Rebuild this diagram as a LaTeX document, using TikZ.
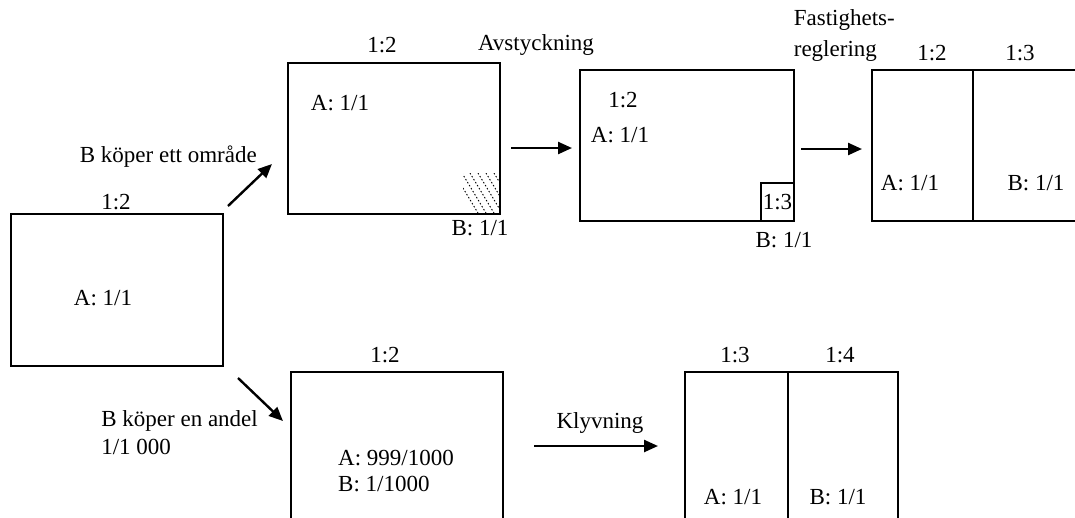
\documentclass[tikz,border=0pt]{standalone}
\usepackage{fontspec}
\setmainfont{Liberation Serif}
\usetikzlibrary{arrows.meta}
\begin{document}
\begin{tikzpicture}[x=1pt,y=-1pt,
  box/.style={draw,line width=1.6pt,inner sep=0pt},
  lbl/.style={inner sep=0pt,font=\fontsize{23}{27}\selectfont},
  arr/.style={line width=2.4pt,-{Triangle[length=14pt,width=12pt]}},
  hatch/.style={line width=0.9pt,dash pattern=on 1.5pt off 2pt}]
\useasboundingbox (0,0) rectangle (1075,517);
\clip (0,0) rectangle (1075,517);
% left box
\node[box,minimum width=212pt,minimum height=152pt] (b1) at (117,290) {};
\node[lbl] (b1t) at (116,202) {1:2};
\node[lbl] (b1a) at (103,298) {A: 1/1};
% top middle box
\node[box,minimum width=212pt,minimum height=151pt] (b2) at (394,138.5) {};
\node[lbl] (b2t) at (382,45) {1:2};
\node[lbl] (b2a) at (340,103) {A: 1/1};
\node[lbl] (b2b) at (480,228) {B: 1/1};
\begin{scope}
\clip (463,173) rectangle (499,213);
\foreach \i in {0,...,5}
  \draw[hatch] (454+8*\i,173) -- (478+8*\i,213);
\end{scope}
% Avstyckning box
\node[box,minimum width=214pt,minimum height=151pt] (b3) at (687,145.5) {};
\node[box,minimum width=33pt,minimum height=38pt] (b3s) at (777.5,202) {};
\node[lbl] at (b3s) {1:3};
\node[lbl] (b3t) at (623,100) {1:2};
\node[lbl] (b3a) at (620,135) {A: 1/1};
\node[lbl] (b3b) at (784,240) {B: 1/1};
\node[lbl] (avst) at (536,45) {Avstyckning};
% Fastighetsreglering box
\node[box,minimum width=210pt,minimum height=151pt] (b4) at (977,145.5) {};
\draw[line width=1.6pt] (973,70) -- (973,221);
\node[lbl] (b4t1) at (932,53) {1:2};
\node[lbl] (b4t2) at (1020,53) {1:3};
\node[lbl] (b4a) at (910,183) {A: 1/1};
\node[lbl] (b4b) at (1036,183) {B: 1/1};
\node[lbl,anchor=east] (fr1) at (895,20) {Fastighets-};
\node[lbl,anchor=west] (fr2) at (fr1.west |- 0,51) {reglering};
% top arrows
\coordinate (a1s) at (228,206);
\coordinate (a1e) at (272,164);
\draw[arr] (a1s) -- (a1e);
\node[lbl,anchor=east] (l1) at (257,157) {B köper ett område};
\coordinate (a2s) at (511,148);
\coordinate (a2e) at (572,148);
\draw[arr] (a2s) -- (a2e);
\coordinate (a3s) at (801,149);
\coordinate (a3e) at (862,149);
\draw[arr] (a3s) -- (a3e);
% bottom branch
\coordinate (a4s) at (238,378);
\coordinate (a4e) at (283,421);
\draw[arr] (a4s) -- (a4e);
\node[lbl,anchor=east] (l2) at (258,421) {B köper en andel};
\node[lbl,anchor=west] (l3) at (l2.west |- 0,447) {1/1 000};
\node[box,minimum width=212pt,minimum height=160pt] (b5) at (397,452) {};
\node[lbl] (b5t) at (385,355) {1:2};
\node[lbl,anchor=west] (b5a) at (338,458) {A: 999/1000};
\node[lbl,anchor=west] (b5b) at (338,484) {B: 1/1000};
\coordinate (a5s) at (534,446);
\coordinate (a5e) at (658,446);
\draw[arr] (a5s) -- (a5e);
\node[lbl] (klyv) at (600,423) {Klyvning};
\node[box,minimum width=213pt,minimum height=160pt] (b6) at (791.5,452) {};
\draw[line width=1.6pt] (788,372) -- (788,530);
\node[lbl] (b6t1) at (735,355) {1:3};
\node[lbl] (b6t2) at (840,355) {1:4};
\node[lbl] (b6a) at (733,497) {A: 1/1};
\node[lbl] (b6b) at (838,497) {B: 1/1};
\end{tikzpicture}
\end{document}
